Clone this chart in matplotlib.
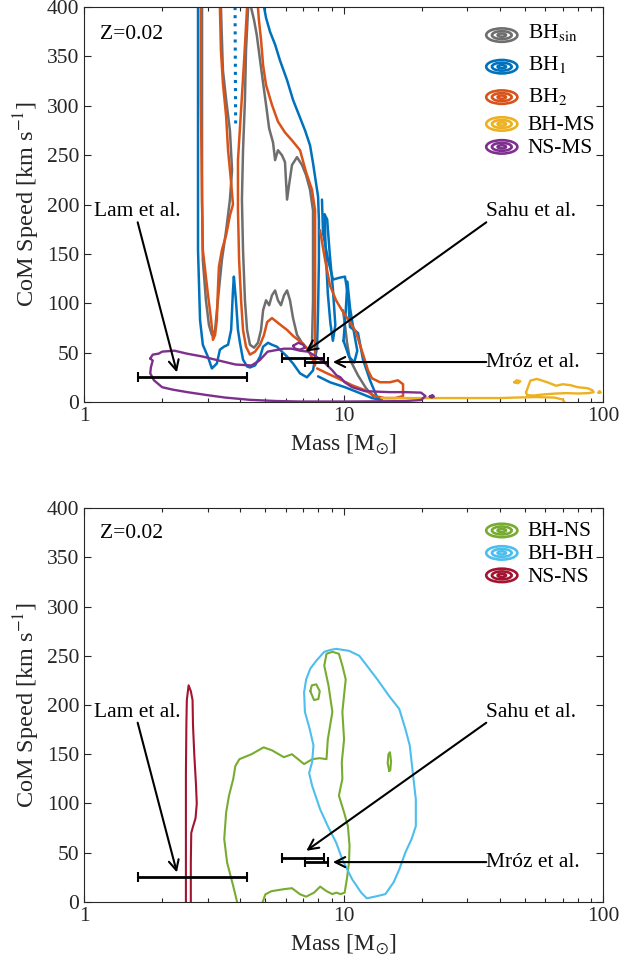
import matplotlib
matplotlib.use('Agg')
import matplotlib.pyplot as plt
from matplotlib.patches import Ellipse

plt.rcParams['font.family'] = ['Liberation Serif', 'DejaVu Serif']
plt.rcParams['mathtext.fontset'] = 'stix'

## Colours (MATLAB default order)
GRAY = '#6e6e6e'
BLUE = '#0072BD'
ORANGE = '#D95319'
YELLOW = '#EDB120'
PURPLE = '#7E2F8E'
GREEN = '#77AC30'
LIGHTBLUE = '#4DBEEE'
RED = '#A2142F'
AXCOL = '#262626'

## Contour outlines, points are (mass [Msun], CoM speed [km/s])
# top panel
bh_sin = [
    [(2.85, 400), (2.85, 306), (2.85, 205), (2.87, 144), (2.95, 103), (3.03, 78),
     (3.11, 68), (3.20, 73), (3.28, 103), (3.40, 144), (3.53, 174), (3.65, 205),
     (3.72, 235), (3.65, 275), (3.53, 306), (3.43, 336), (3.40, 367), (3.37, 400)],
    [(4.29, 400), (4.21, 356), (4.17, 306), (4.10, 255), (4.06, 205), (4.10, 154),
     (4.17, 103), (4.25, 73), (4.36, 58), (4.52, 55), (4.68, 60), (4.81, 73),
     (4.90, 93), (5.03, 103), (5.17, 98), (5.30, 108), (5.45, 113), (5.59, 103),
     (5.74, 98), (5.90, 108), (6.06, 113), (6.22, 103), (6.39, 85), (6.62, 68),
     (6.92, 60), (7.30, 53), (7.56, 58), (7.63, 103), (7.63, 154), (7.63, 194),
     (7.43, 215), (7.17, 230), (6.92, 240), (6.62, 248), (6.33, 240), (6.17, 220),
     (6.06, 205), (6.00, 225), (5.95, 243), (5.79, 250), (5.59, 255), (5.45, 245),
     (5.35, 263), (5.17, 277), (5.03, 301), (4.90, 323), (4.77, 346), (4.63, 372),
     (4.52, 387), (4.40, 400)],
    [(9.95, 93), (10.13, 78), (10.32, 60), (10.59, 43), (11.37, 27), (12.21, 14),
     (13.0, 6)],
]

bh_1 = [
    [(2.75, 400), (2.75, 255), (2.75, 154), (2.80, 83), (2.87, 58), (3.00, 46),
     (3.11, 34), (3.25, 39), (3.34, 53), (3.46, 56), (3.59, 58), (3.69, 73),
     (3.75, 113), (3.78, 127), (3.85, 103), (3.92, 73), (3.99, 60), (4.10, 43),
     (4.25, 36), (4.36, 35), (4.56, 37), (4.77, 46), (4.90, 56), (5.12, 60),
     (5.30, 58), (5.54, 56), (5.79, 51), (6.06, 46), (6.39, 39), (6.80, 29),
     (7.23, 25), (7.63, 32), (7.91, 56), (7.98, 93), (8.04, 144), (8.04, 184),
     (7.98, 208), (7.63, 242), (7.43, 260), (7.11, 275), (6.80, 288), (6.39, 306),
     (6.06, 326), (5.69, 346), (5.45, 362), (5.21, 375), (5.03, 389), (4.94, 400)],
    [(8.26, 205), (8.34, 171), (8.72, 144), (9.11, 124), (9.69, 126), (10.13, 127),
     (10.41, 108), (10.59, 76), (11.37, 70), (11.89, 43), (12.65, 22), (13.46, 5),
     (14.07, 2), (12.88, 4), (11.57, 9), (10.13, 15), (8.87, 20), (7.98, 26)],
    [(8.45, 190), (8.55, 150), (8.70, 110), (8.90, 80), (9.10, 62), (9.30, 78),
     (9.10, 115), (8.85, 150), (8.65, 185), (8.45, 190)],
    [(10.0, 62), (10.2, 92), (10.35, 122), (10.6, 95), (10.95, 72), (11.3, 52),
     (11.0, 40), (10.5, 46), (10.0, 62)],
]
bh_1_dotted = [(3.82, 400), (3.83, 340), (3.84, 280)]

bh_2 = [
    [(2.82, 400), (2.82, 306), (2.85, 205), (2.87, 154), (3.00, 110), (3.09, 83),
     (3.14, 63), (3.20, 68), (3.25, 83), (3.28, 113), (3.31, 137), (3.40, 154),
     (3.53, 169), (3.65, 189), (3.75, 200), (3.69, 222), (3.59, 255), (3.53, 289),
     (3.43, 323), (3.37, 356), (3.34, 400)],
    [(4.25, 400), (4.14, 346), (4.03, 296), (3.92, 245), (3.92, 194), (3.96, 144),
     (4.03, 103), (4.10, 73), (4.21, 56), (4.36, 48), (4.56, 51), (4.77, 58),
     (4.94, 68), (5.08, 81), (5.30, 85), (5.54, 81), (5.79, 77), (6.06, 73),
     (6.39, 67), (6.68, 63), (6.98, 59), (7.30, 53), (7.56, 45), (7.77, 37),
     (7.77, 83), (7.77, 124), (7.77, 164), (7.77, 194), (7.56, 215), (7.17, 233),
     (6.80, 255), (6.33, 265), (5.95, 273), (5.59, 284), (5.30, 301), (5.03, 321),
     (4.90, 341), (4.81, 367), (4.72, 387), (4.68, 400)],
    [(8.12, 174), (8.49, 144), (8.87, 118), (9.36, 103), (9.86, 93), (10.59, 81),
     (11.17, 71), (11.57, 58), (12.0, 45), (12.43, 32), (12.88, 24), (13.83, 20),
     (15.11, 20), (16.2, 22), (16.96, 18), (16.96, 6), (15.8, 4), (14.4, 4),
     (13.2, 6), (12.1, 12), (10.78, 17), (9.52, 24), (8.49, 30), (7.91, 34)],
]

bh_ms = [
    [(14.0, 4), (20, 4), (30, 4), (40, 4), (46, 4.5), (55, 5), (65, 4.5), (70, 2.5),
     (71, 0)],
    [(50.5, 9.7), (52.5, 21.7), (55.6, 23.4), (61, 20), (66, 16.5), (70, 18), (75, 17),
     (80, 15), (87, 14), (91, 12), (92, 10), (88, 9), (80, 8.6), (72, 9), (65, 8.5),
     (58, 7.5), (54, 6.5), (51, 7), (50.5, 9.7)],
    [(45.5, 20), (46.5, 22), (48, 21), (47, 19), (45.5, 20)],
    [(96, 9.5), (97, 11), (98, 9.5), (96, 9.5)],
]

ns_ms = [
    [(1.80, 44), (1.84, 48), (1.94, 49), (2.00, 51), (2.23, 52), (2.49, 49), (2.87, 46),
     (3.31, 42), (3.83, 38), (4.42, 37), (4.74, 42), (5.10, 51), (5.89, 54), (6.32, 54),
     (6.79, 52), (7.30, 51), (7.85, 46), (8.43, 40), (9.06, 32), (9.40, 27), (9.73, 25),
     (10.1, 20), (10.8, 15), (12.1, 11), (15.0, 10), (17.3, 10), (19.9, 9.5), (20.7, 6),
     (19.9, 2), (17.3, 1), (15.0, 0.8), (12.1, 0.6), (10.1, 0.5), (8.43, 0.5),
     (6.8, 0.5), (5.5, 1), (4.36, 2.2), (3.5, 4.5), (2.98, 7), (2.5, 10), (2.2, 12.5),
     (2.0, 15), (1.86, 22), (1.80, 29), (1.81, 35), (1.84, 42), (1.80, 44)],
    [(6.4, 57), (6.7, 60), (7.0, 58), (7.1, 55), (6.8, 53), (6.5, 54), (6.4, 57)],
    [(21.5, 5.5), (22.0, 7), (22.3, 5.5), (21.9, 4.5), (21.5, 5.5)],
]

# bottom panel
bh_ns = [
    [(3.89, 0), (3.76, 16), (3.56, 40), (3.47, 64), (3.53, 91), (3.62, 108), (3.76, 125),
     (3.83, 138), (3.97, 145), (4.42, 150), (4.92, 157), (5.3, 154), (5.89, 147),
     (6.33, 150), (7.05, 140), (7.58, 145), (8.1, 146), (8.6, 145), (8.7, 165),
     (9.06, 193), (8.75, 220), (8.43, 240), (8.6, 252), (9.06, 254), (9.6, 252),
     (9.9, 240), (10.2, 226), (10.05, 210), (9.9, 193), (10.05, 165), (9.85, 142),
     (9.9, 125), (9.6, 108), (10.05, 91), (10.4, 77), (10.55, 57), (10.5, 40),
     (10.3, 23), (10.1, 9.5), (9.75, 8), (9.38, 9.5), (9.06, 8), (8.6, 11),
     (8.13, 15.6), (7.7, 9.5), (7.18, 5.4), (6.8, 7.8), (6.33, 14), (5.89, 13),
     (5.28, 11), (5.0, 7.8), (4.88, 0)],
    [(7.45, 214), (7.55, 220), (7.85, 221), (8.1, 214), (8.0, 206), (7.7, 205), (7.45, 214)],
    [(15.0, 133), (14.8, 141), (14.9, 150), (15.1, 152), (15.25, 143), (15.15, 134),
     (15.0, 133)],
]

bh_bh = [
    [(9.38, 257), (10.5, 255), (11.5, 250), (12.3, 240), (13.5, 226), (15.0, 209),
     (16.4, 196), (17.3, 176), (18.0, 159), (18.5, 131), (19.0, 104), (19.0, 77),
     (18.3, 64), (17.3, 50), (16.4, 33), (15.6, 20), (14.5, 8), (13.5, 6), (12.3, 3.7),
     (11.7, 9.5), (10.8, 23), (9.9, 43), (9.38, 60), (8.7, 77), (8.13, 94), (7.57, 118),
     (7.37, 131), (7.57, 142), (7.66, 159), (7.4, 176), (7.1, 193), (7.05, 213),
     (7.18, 226), (7.45, 237), (7.86, 245), (8.43, 254), (8.93, 256), (9.38, 257)],
]

ns_ns = [
    [(2.47, 0), (2.47, 60), (2.47, 130), (2.48, 180), (2.49, 205), (2.53, 220),
     (2.58, 214), (2.62, 205), (2.63, 180), (2.66, 150), (2.70, 120), (2.72, 100),
     (2.69, 85), (2.62, 75), (2.59, 70), (2.58, 40), (2.58, 0)],
]

## Observed lensing events
obs_names = ['Lam et al.', 'Sahu et al.', 'Mróz et al.']
obs_mass = [2.6, 7.1, 7.9]
obs_mass_lo = [1.61, 5.8, 7.1]
obs_mass_hi = [4.23, 8.4, 8.7]
obs_speed = [25, 45, 40.5]

top_names = ['BH$_{\\rm sin}$', 'BH$_1$', 'BH$_2$', 'BH-MS', 'NS-MS']
top_colors = [GRAY, BLUE, ORANGE, YELLOW, PURPLE]
bot_names = ['BH-NS', 'BH-BH', 'NS-NS']
bot_colors = [GREEN, LIGHTBLUE, RED]

FS = 15.5


def draw_segments(ax, segments, color, ls='-', lw=1.5):
    for seg in segments:
        m = [p[0] for p in seg]
        v = [p[1] for p in seg]
        ax.plot(m, v, color=color, lw=lw, ls=ls, solid_joinstyle='round',
                solid_capstyle='round')


def draw_legend(ax, names, colors, y_icons, y_texts):
    for name, c, yi, yt in zip(names, colors, y_icons, y_texts):
        for w, h in [(0.060, 0.034), (0.038, 0.020), (0.016, 0.008)]:
            ax.add_patch(Ellipse((0.805, yi), w, h, transform=ax.transAxes,
                                 fill=False, ec=c, lw=1.9, clip_on=False))
        ax.text(0.855, yt, name, transform=ax.transAxes, fontsize=FS,
                ha='left', va='baseline', color='k')


def draw_observations(ax, sahu_head):
    lo = [m - l for m, l in zip(obs_mass, obs_mass_lo)]
    hi = [h - m for m, h in zip(obs_mass, obs_mass_hi)]
    ax.errorbar(obs_mass, obs_speed, xerr=[lo, hi], fmt='none', ecolor='k',
                elinewidth=2, capsize=3.5, capthick=1.5, zorder=5)
    arrow = dict(arrowstyle='->', color='k', lw=1.5, mutation_scale=18,
                 shrinkA=0, shrinkB=0)
    # Lam et al.
    ax.text(1.61, 188, obs_names[0], fontsize=FS, ha='center', va='baseline')
    ax.annotate('', xy=(2.28, 30), xytext=(1.61, 182), arrowprops=arrow)
    # Sahu et al.
    ax.text(35.5, 188, obs_names[1], fontsize=FS, ha='left', va='baseline')
    ax.annotate('', xy=sahu_head, xytext=(35.5, 182), arrowprops=arrow)
    # Mroz et al.
    ax.text(35.5, 40.5, obs_names[2], fontsize=FS, ha='left', va='center')
    ax.annotate('', xy=(9.1, 40.5), xytext=(35.5, 40.5), arrowprops=arrow)


def style_axes(ax):
    ax.set_xscale('log')
    ax.set_xlim(1, 100)
    ax.set_ylim(0, 400)
    ax.set_yticks(range(0, 401, 50))
    ax.set_xticks([1, 10, 100])
    ax.set_xticklabels(['1', '10', '100'])
    ax.tick_params(which='both', direction='in', top=True, right=True,
                   colors=AXCOL, labelsize=FS, width=0.8)
    ax.tick_params(which='major', length=5)
    ax.tick_params(which='minor', length=3)
    for s in ax.spines.values():
        s.set_color(AXCOL)
        s.set_linewidth(0.8)
    ax.set_xlabel('Mass [M$_{\\odot}$]', fontsize=FS + 1.5, color=AXCOL, labelpad=5)
    ax.set_ylabel('CoM Speed [km s$^{-1}$]', fontsize=FS + 2, color=AXCOL, labelpad=3)


fig = plt.figure(figsize=(6.35, 9.68), dpi=100)
ax1 = fig.add_axes([0.1323, 0.5847, 0.8173, 0.408])
ax2 = fig.add_axes([0.1323, 0.0682, 0.8173, 0.407])

# top panel
draw_segments(ax1, bh_sin, GRAY, lw=1.8)
draw_segments(ax1, bh_1, BLUE, lw=1.8)
draw_segments(ax1, [bh_1_dotted], BLUE, ls=':', lw=2.2)
draw_segments(ax1, bh_2, ORANGE, lw=1.8)
draw_segments(ax1, bh_ms, YELLOW, lw=1.7)
draw_segments(ax1, ns_ms, PURPLE, lw=1.7)
draw_observations(ax1, (7.15, 51))
style_axes(ax1)
ax1.text(0.031, 0.918, 'Z=0.02', transform=ax1.transAxes, fontsize=FS, va='baseline')
draw_legend(ax1, top_names, top_colors,
            [0.929, 0.849, 0.772, 0.704, 0.646],
            [0.921, 0.841, 0.760, 0.689, 0.630])

# bottom panel
draw_segments(ax2, bh_ns, GREEN)
draw_segments(ax2, bh_bh, LIGHTBLUE)
draw_segments(ax2, ns_ns, RED)
draw_observations(ax2, (7.19, 52))
style_axes(ax2)
ax2.text(0.031, 0.924, 'Z=0.02', transform=ax2.transAxes, fontsize=FS, va='baseline')
draw_legend(ax2, bot_names, bot_colors,
            [0.943, 0.886, 0.829],
            [0.928, 0.871, 0.813])

fig.savefig('out.png', dpi=100)
